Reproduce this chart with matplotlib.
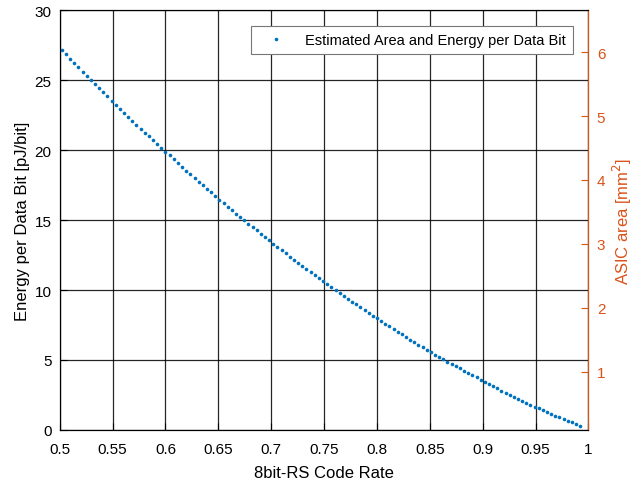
import numpy as np
import matplotlib
matplotlib.use('Agg')
import matplotlib.pyplot as plt

plt.rcParams['font.family'] = ['Liberation Sans', 'DejaVu Sans']

# RS(255, k) code rates, k = 128 ... 253
n_sym = 255
k_sym = np.arange(128, 254)
code_rate = k_sym / n_sym

energy = [
    27.14, 26.83, 26.52, 26.21, 25.90, 25.60, 25.31, 25.00, 24.71, 24.40,
    24.12, 23.83, 23.52, 23.24, 22.95, 22.67, 22.38, 22.10, 21.81, 21.52,
    21.24, 20.98, 20.69, 20.40, 20.14, 19.88, 19.62, 19.33, 19.05, 18.79,
    18.52, 18.26, 18.00, 17.74, 17.48, 17.21, 16.98, 16.71, 16.45, 16.21,
    15.95, 15.71, 15.45, 15.21, 14.98, 14.74, 14.50, 14.26, 14.02, 13.80,
    13.55, 13.31, 13.07, 12.86, 12.62, 12.38, 12.17, 11.95, 11.74, 11.50,
    11.29, 11.07, 10.86, 10.64, 10.43, 10.21, 10.00, 9.79, 9.57, 9.38,
    9.17, 8.97, 8.77, 8.57, 8.37, 8.17, 7.98, 7.79, 7.60, 7.40,
    7.21, 7.02, 6.83, 6.64, 6.45, 6.26, 6.10, 5.90, 5.74, 5.55,
    5.38, 5.21, 5.05, 4.88, 4.71, 4.55, 4.40, 4.24, 4.08, 3.92,
    3.76, 3.60, 3.43, 3.26, 3.12, 2.98, 2.81, 2.67, 2.52, 2.38,
    2.24, 2.10, 1.95, 1.81, 1.67, 1.55, 1.40, 1.29, 1.17, 1.02,
    0.90, 0.79, 0.67, 0.55, 0.40, 0.29,
]

x_ticks = [0.5, 0.55, 0.6, 0.65, 0.7, 0.75, 0.8, 0.85, 0.9, 0.95, 1.0]
x_tick_labels = ['0.5', '0.55', '0.6', '0.65', '0.7', '0.75', '0.8', '0.85', '0.9', '0.95', '1']
e_ticks = [0, 5, 10, 15, 20, 25, 30]
area_ticks = [1, 2, 3, 4, 5, 6]

C_BLUE = '#0072BD'
C_ORANGE = '#D95319'

fig = plt.figure(figsize=(6.34, 4.81), dpi=100)
ax = fig.add_axes([0.0942, 0.104, 0.834, 0.873])

ax.plot(code_rate, energy, linestyle='none', marker='o', markersize=2.6,
        markeredgewidth=0, color=C_BLUE, label='Estimated Area and Energy per Data Bit',
        zorder=3)

ax.set_xlim(0.5, 1.0)
ax.set_ylim(0, 30)
ax.set_xticks(x_ticks)
ax.set_xticklabels(x_tick_labels)
ax.set_yticks(e_ticks)
ax.grid(True, color='black', linewidth=0.9, alpha=0.85)
ax.tick_params(direction='in', labelsize=11, length=5, width=0.8, right=False)
ax.tick_params(axis='x', pad=9)
ax.tick_params(axis='y', pad=6)
ax.set_xlabel('8bit-RS Code Rate', fontsize=12, labelpad=6)
ax.set_ylabel('Energy per Data Bit [pJ/bit]', fontsize=12, labelpad=3)
for s in ax.spines.values():
    s.set_linewidth(0.8)

ax2 = ax.twinx()
ax2.set_ylim(0.087, 6.66)
ax2.set_yticks(area_ticks)
ax2.tick_params(direction='in', labelsize=11, length=5, width=0.8,
                colors=C_ORANGE, pad=6)
ax2.spines['right'].set_color(C_ORANGE)
ax2.spines['right'].set_linewidth(0.8)
ax2.set_ylabel('ASIC area [mm$^2$]', fontsize=12, color=C_ORANGE, labelpad=4)

leg = ax.legend(loc='upper right', bbox_to_anchor=(0.970, 0.961), borderaxespad=0,
                fancybox=False, edgecolor='#777777', framealpha=1, fontsize=10.5,
                handlelength=2.6, handletextpad=0.7, borderpad=0.45, markerscale=1.0)
leg.get_frame().set_linewidth(0.8)

fig.savefig('out.png', dpi=100)
